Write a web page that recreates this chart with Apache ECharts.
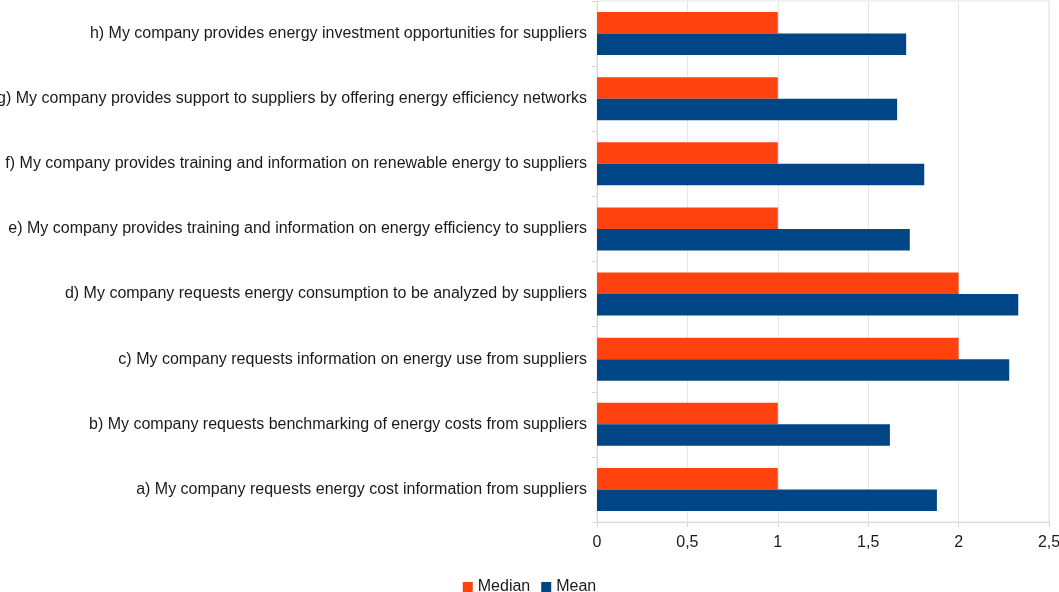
<!DOCTYPE html>
<html>
<head>
<meta charset="utf-8">
<script src="https://cdn.jsdelivr.net/npm/echarts@6/dist/echarts.min.js"></script>
<style>
  html, body { margin: 0; padding: 0; background: #fff; }
  #main1 { width: 1059px; height: 592px; }
</style>
</head>
<body>
<div id="main1"></div>
<script>
// categories bottom to top, as on the chart
const categories = [
    'a) My company requests energy cost information from suppliers',
    'b) My company requests benchmarking of energy costs from suppliers',
    'c) My company requests information on energy use from suppliers',
    'd) My company requests energy consumption to be analyzed by suppliers',
    'e) My company provides training and information on energy efficiency to suppliers',
    'f) My company provides training and information on renewable energy to suppliers',
    'g) My company provides support to suppliers by offering energy efficiency networks',
    'h) My company provides energy investment opportunities for suppliers'
];
const medianValues = [1, 1, 2, 2, 1, 1, 1, 1];
const meanValues = [1.88, 1.62, 2.28, 2.33, 1.73, 1.81, 1.66, 1.71];
const xTicks = [0, 0.5, 1, 1.5, 2, 2.5];

const fontName = '"Liberation Sans", Arial, sans-serif';

let optionObj = {
    animation: false,
    color: ['#ff420e', '#004586'],
    textStyle: { fontFamily: fontName },
    grid: {
        left: 597,
        right: 10,
        top: 1,
        bottom: 70,
        containLabel: false,
        outerBoundsMode: 'none',
        show: true,
        borderColor: '#e4e4e4',
        borderWidth: 1
    },
    legend: {
        data: ['Median', 'Mean'],
        left: 'center',
        top: 574,
        itemWidth: 10,
        itemHeight: 10,
        itemGap: 11,
        icon: 'rect',
        textStyle: { fontSize: 16, color: '#1a1a1a', fontFamily: fontName }
    },
    xAxis: {
        type: 'value',
        min: 0,
        max: 2.5,
        interval: 0.5,
        axisLine: { show: true, lineStyle: { color: '#d9d9d9' } },
        axisTick: { show: true, length: 5, lineStyle: { color: '#d9d9d9' } },
        splitLine: { show: true, lineStyle: { color: '#e6e6e6' } },
        axisLabel: {
            fontSize: 16,
            color: '#1a1a1a',
            margin: 13,
            formatter: v => xTicks.indexOf(v) >= 0 ? String(v).replace('.', ',') : ''
        }
    },
    yAxis: {
        type: 'category',
        data: categories,
        axisLine: { show: true, lineStyle: { color: '#d9d9d9' } },
        axisTick: { show: true, length: 5, lineStyle: { color: '#d9d9d9' } },
        splitLine: { show: false },
        axisLabel: { fontSize: 16, color: '#1a1a1a', margin: 10 }
    },
    series: [
        {
            name: 'Median',
            type: 'bar',
            data: medianValues,
            barGap: '0%',
            barCategoryGap: '34%'
        },
        {
            name: 'Mean',
            type: 'bar',
            data: meanValues,
            barGap: '0%',
            barCategoryGap: '34%'
        }
    ]
};

let myChart = echarts.init(document.getElementById('main1'));
myChart.setOption(optionObj);
</script>
</body>
</html>
